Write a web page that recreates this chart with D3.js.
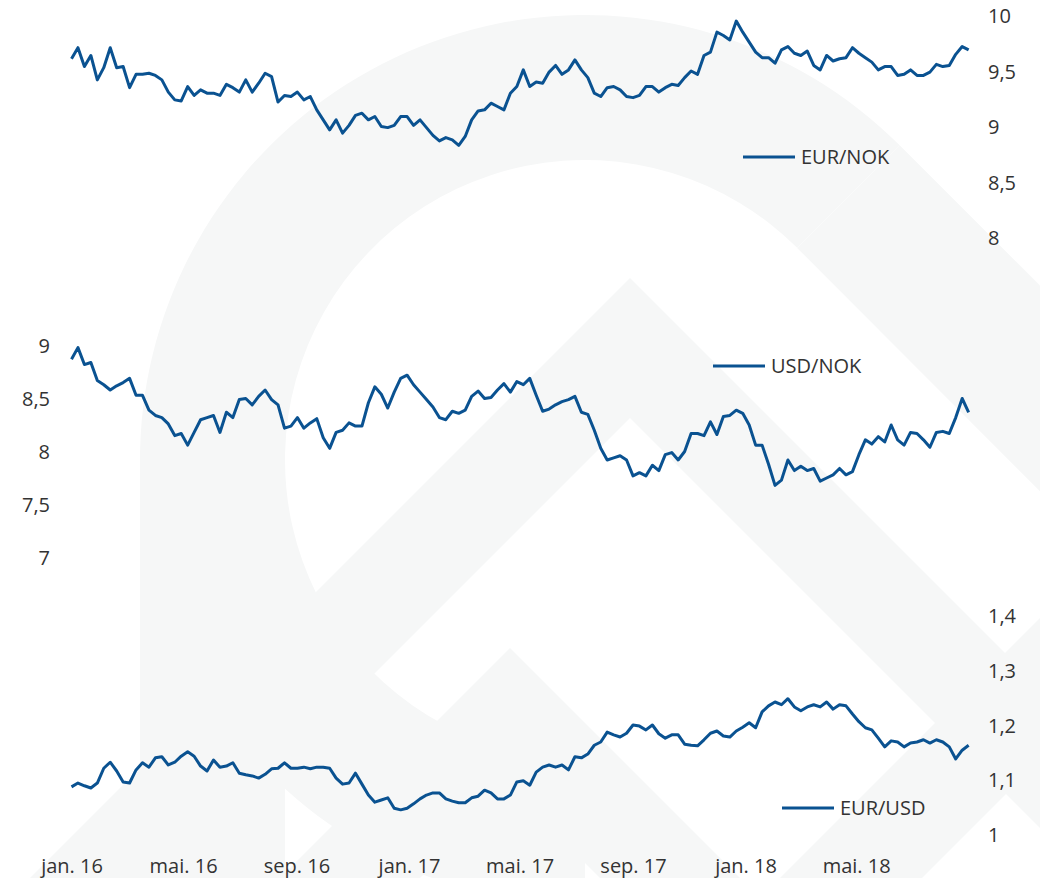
<!DOCTYPE html>
<html>
<head>
<meta charset="utf-8">
<script src="https://cdn.jsdelivr.net/npm/d3@7"></script>
<style>
  html, body { margin: 0; padding: 0; background: #fff; }
  svg text { font-family: "Open Sans", "Noto Sans", sans-serif; fill: #333; }
</style>
</head>
<body>
<div id="chart"></div>
<script>
// weekly observations, first one on 1 Jan 2016
const startDate = new Date(2016, 0, 1);

const seriesNames = ["EUR/NOK", "USD/NOK", "EUR/USD"];

const eurNok = [
  9.61, 9.71, 9.54, 9.64, 9.42, 9.53, 9.71, 9.53, 9.54, 9.35,
  9.47, 9.47, 9.48, 9.46, 9.42, 9.31, 9.24, 9.23, 9.36, 9.28,
  9.33, 9.30, 9.30, 9.28, 9.38, 9.35, 9.31, 9.42, 9.31, 9.39,
  9.48, 9.45, 9.22, 9.28, 9.27, 9.31, 9.24, 9.27, 9.15, 9.06,
  8.97, 9.06, 8.94, 9.01, 9.10, 9.12, 9.06, 9.09, 9.00, 8.99,
  9.01, 9.09, 9.09, 9.01, 9.06, 8.99, 8.92, 8.87, 8.90, 8.88,
  8.83, 8.91, 9.06, 9.14, 9.15, 9.21, 9.18, 9.15, 9.30, 9.36,
  9.51, 9.36, 9.40, 9.39, 9.49, 9.55, 9.47, 9.51, 9.60, 9.51,
  9.44, 9.30, 9.27, 9.35, 9.36, 9.33, 9.27, 9.26, 9.28, 9.36,
  9.36, 9.31, 9.35, 9.38, 9.37, 9.44, 9.50, 9.47, 9.64, 9.67,
  9.85, 9.82, 9.78, 9.95, 9.85, 9.76, 9.67, 9.62, 9.62, 9.57,
  9.69, 9.72, 9.66, 9.64, 9.68, 9.55, 9.51, 9.64, 9.59, 9.61,
  9.62, 9.71, 9.66, 9.62, 9.58, 9.51, 9.54, 9.54, 9.46, 9.47,
  9.51, 9.46, 9.46, 9.49, 9.56, 9.54, 9.55, 9.65, 9.72, 9.69
];

const usdNok = [
  8.87, 8.98, 8.82, 8.84, 8.67, 8.63, 8.58, 8.62, 8.65, 8.69,
  8.53, 8.53, 8.39, 8.34, 8.32, 8.26, 8.15, 8.17, 8.06, 8.18,
  8.30, 8.32, 8.34, 8.18, 8.37, 8.32, 8.49, 8.50, 8.44, 8.52,
  8.58, 8.49, 8.44, 8.22, 8.24, 8.32, 8.22, 8.27, 8.31, 8.13,
  8.03, 8.18, 8.20, 8.27, 8.24, 8.24, 8.46, 8.61, 8.54, 8.41,
  8.56, 8.69, 8.72, 8.63, 8.56, 8.49, 8.42, 8.32, 8.30, 8.38,
  8.36, 8.39, 8.52, 8.57, 8.50, 8.51, 8.58, 8.64, 8.56, 8.66,
  8.63, 8.69, 8.53, 8.38, 8.40, 8.44, 8.47, 8.49, 8.52, 8.37,
  8.35, 8.20, 8.03, 7.92, 7.94, 7.96, 7.92, 7.77, 7.80, 7.77,
  7.87, 7.82, 7.97, 7.99, 7.92, 8.00, 8.17, 8.17, 8.15, 8.28,
  8.16, 8.33, 8.34, 8.39, 8.36, 8.25, 8.06, 8.06, 7.88, 7.68,
  7.73, 7.92, 7.82, 7.86, 7.82, 7.84, 7.72, 7.75, 7.78, 7.84,
  7.78, 7.81, 7.97, 8.11, 8.07, 8.14, 8.09, 8.25, 8.11, 8.06,
  8.18, 8.17, 8.11, 8.04, 8.18, 8.19, 8.17, 8.32, 8.50, 8.37
];

const eurUsd = [
  1.087, 1.094, 1.089, 1.085, 1.094, 1.121, 1.132, 1.116, 1.096, 1.094,
  1.118, 1.131, 1.123, 1.140, 1.142, 1.127, 1.132, 1.143, 1.151, 1.143,
  1.125, 1.116, 1.136, 1.123, 1.125, 1.131, 1.112, 1.109, 1.107, 1.103,
  1.110, 1.120, 1.121, 1.131, 1.121, 1.121, 1.123, 1.120, 1.123, 1.123,
  1.121, 1.103, 1.092, 1.094, 1.112, 1.092, 1.072, 1.059, 1.063, 1.067,
  1.048, 1.045, 1.048, 1.056, 1.065, 1.072, 1.076, 1.076, 1.065, 1.061,
  1.058, 1.058, 1.067, 1.070, 1.081, 1.076, 1.065, 1.065, 1.072, 1.096,
  1.098, 1.090, 1.114, 1.123, 1.127, 1.123, 1.127, 1.118, 1.142, 1.140,
  1.147, 1.163, 1.169, 1.187, 1.182, 1.178, 1.185, 1.200, 1.198, 1.191,
  1.200, 1.184, 1.176, 1.182, 1.182, 1.165, 1.163, 1.162, 1.173, 1.185,
  1.189, 1.180, 1.178, 1.189, 1.196, 1.204, 1.195, 1.224, 1.235, 1.242,
  1.237, 1.248, 1.233, 1.226, 1.233, 1.237, 1.233, 1.242, 1.229, 1.237,
  1.235, 1.220, 1.206, 1.195, 1.191, 1.176, 1.160, 1.171, 1.169, 1.160,
  1.167, 1.169, 1.173, 1.167, 1.173, 1.169, 1.160, 1.138, 1.154, 1.163
];

const xTickDates = ["2016-01-01", "2016-05-01", "2016-09-01", "2017-01-01",
                    "2017-05-01", "2017-09-01", "2018-01-01", "2018-05-01"];
const xTickLabels = ["jan. 16", "mai. 16", "sep. 16", "jan. 17",
                     "mai. 17", "sep. 17", "jan. 18", "mai. 18"];

const eurNokTicks = [8, 8.5, 9, 9.5, 10];
const usdNokTicks = [7, 7.5, 8, 8.5, 9];
const eurUsdTicks = [1, 1.1, 1.2, 1.3, 1.4];

const width = 1040, height = 878;
const lineColor = "#0a5291";
const wmColor = "#f6f7f7";

const svg = d3.select("#chart").append("svg")
  .attr("width", width)
  .attr("height", height);

// --- faint logo watermark in the background
const wm = svg.append("g").attr("fill", wmColor);
const ringC = [585, 460];
wm.append("path")
  .attr("transform", `translate(${ringC[0]},${ringC[1]})`)
  .attr("d", d3.arc()({ innerRadius: 300, outerRadius: 445, startAngle: -Math.PI, endAngle: Math.PI / 4 }));
// left side of the ring runs straight down to the bottom edge
wm.append("rect").attr("x", 140).attr("y", 460).attr("width", 145).attr("height", 420);
// diagonal band leaving the ring towards the lower right
wm.append("path").attr("d", "M899.7,145.3 L1400,645.6 L1297,748.6 L797.1,247.9 Z");
// chevrons
function chevron(ax, ay, t, len) {
  return `M${ax - len},${ay + len} L${ax},${ay} L${ax + len},${ay + len} ` +
         `L${ax + len},${ay + len + t} L${ax},${ay + t} L${ax - len},${ay + len + t} Z`;
}
wm.append("path").attr("d", chevron(630, 278, 140, 700));
wm.append("path").attr("d", chevron(510, 648, 140, 500));
wm.append("path").attr("d", "M780,878 L1040,618 L1040,760 L922,878 Z");

// --- scales
const x = d3.scaleTime()
  .domain([new Date(2016, 0, 1), new Date(2018, 0, 1)])
  .range([71.5, 745.5]);

const nf = d3.formatLocale({ decimal: ",", thousands: " ", grouping: [3], currency: ["", " kr"] }).format(".2~f");

const panels = [
  { name: seriesNames[0], values: eurNok, domain: [8, 10],  range: [237.5, 15.5], ticks: eurNokTicks, side: "right", legend: [743, 157] },
  { name: seriesNames[1], values: usdNok, domain: [7, 9],   range: [557.5, 345.5], ticks: usdNokTicks, side: "left",  legend: [713, 366] },
  { name: seriesNames[2], values: eurUsd, domain: [1, 1.4], range: [834.5, 615.5], ticks: eurUsdTicks, side: "right", legend: [782, 808] }
];

panels.forEach(p => {
  const y = d3.scaleLinear().domain(p.domain).range(p.range);
  const data = p.values.map((v, i) => ({ date: d3.timeDay.offset(startDate, i * 7), value: v }));

  const axis = (p.side === "right" ? d3.axisRight(y) : d3.axisLeft(y))
    .tickValues(p.ticks)
    .tickFormat(nf)
    .tickSize(0)
    .tickPadding(0);

  const g = svg.append("g")
    .attr("transform", `translate(${p.side === "right" ? 988 : 50},0)`)
    .call(axis);
  g.select(".domain").remove();
  g.selectAll("text")
    .attr("dy", "0.36em")
    .style("font-size", "20px")
    .style("font-family", null)
    .attr("fill", "#333");

  svg.append("path")
    .datum(data)
    .attr("fill", "none")
    .attr("stroke", lineColor)
    .attr("stroke-width", 3)
    .attr("stroke-linejoin", "round")
    .attr("d", d3.line().x(d => x(d.date)).y(d => y(d.value)));

  // legend
  const lg = svg.append("g").attr("transform", `translate(${p.legend[0]},${p.legend[1]})`);
  lg.append("line")
    .attr("x1", 0).attr("x2", 52)
    .attr("stroke", lineColor)
    .attr("stroke-width", 3);
  lg.append("text")
    .attr("x", 58)
    .attr("dy", "0.36em")
    .style("font-size", "20px")
    .text(p.name);
});

// --- x axis
const xAxis = d3.axisBottom(x)
  .tickValues(xTickDates.map(s => d3.timeParse("%Y-%m-%d")(s)))
  .tickFormat((d, i) => xTickLabels[i])
  .tickSize(0)
  .tickPadding(0);

const gx = svg.append("g")
  .attr("transform", `translate(0,859)`)
  .call(xAxis);
gx.select(".domain").remove();
gx.selectAll("text")
  .style("font-size", "20px")
  .style("font-family", null)
  .attr("fill", "#333");
</script>
</body>
</html>
